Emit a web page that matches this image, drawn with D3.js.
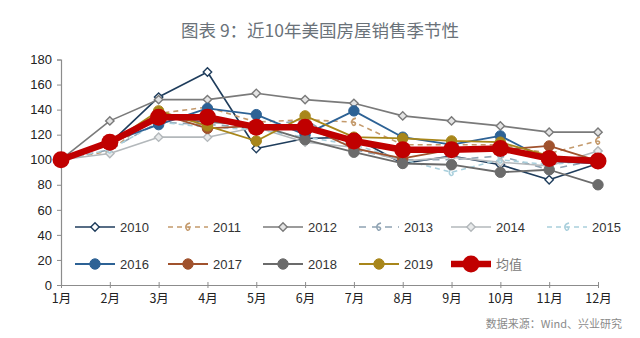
<!DOCTYPE html>
<html>
<head>
<meta charset="utf-8">
<script src="https://cdn.jsdelivr.net/npm/d3@7/dist/d3.min.js"></script>
<style>
  html, body { margin: 0; padding: 0; background: #fff; }
  svg { display: block; }
</style>
</head>
<body>
<svg id="chart" width="640" height="338"></svg>
<script>
// Monthly US home sales, January = 100
const months = ["1月","2月","3月","4月","5月","6月","7月","8月","9月","10月","11月","12月"];
const yTicks = [0, 20, 40, 60, 80, 100, 120, 140, 160, 180];

const s2010 = [100, 113, 150, 170, 109, 117, 118, 97, 103, 96, 84, 97];
const s2011 = [100, 107, 137, 142, 130, 132, 130, 112, 112, 112, 105, 115];
const s2012 = [100, 131, 148, 148, 153, 148, 145, 135, 131, 127, 122, 122];
const s2013 = [100, 108, 130, 128, 126, 132, 108, 100, 100, 103, 92, 100];
const s2014 = [100, 105, 118, 118, 126, 114, 110, 99, 102, 98, 95, 107];
const s2015 = [100, 108, 130, 126, 124, 118, 112, 100, 90, 100, 96, 100];
const s2016 = [100, 114, 128, 141, 136, 120, 139, 118, 112, 119, 99, 97];
const s2017 = [100, 112, 137, 125, 127, 127, 109, 101, 108, 108, 111, 99];
const s2018 = [100, 114, 134, 130, 128, 116, 106, 97, 96, 90, 92, 80];
const s2019 = [100, 113, 139, 127, 115, 135, 118, 117, 115, 114, 103, 98];
const sAvg  = [100, 114, 134, 134, 126, 126, 115, 108, 108, 109, 101, 99];

const seriesNames = ["2010","2011","2012","2013","2014","2015","2016","2017","2018","2019","均值"];
const seriesValues = [s2010, s2011, s2012, s2013, s2014, s2015, s2016, s2017, s2018, s2019, sAvg];

// Visual style per series
const styles = [
  {color: "#1f3d5c", dash: null,  marker: "diamond", fill: "#ffffff", width: 1.6},
  {color: "#c49a6c", dash: "5,4", marker: "swirl",   fill: "#ffffff", width: 1.6},
  {color: "#7a7a7a", dash: null,  marker: "diamond", fill: "#e4e4e4", width: 1.6},
  {color: "#8fa3b3", dash: "7,6", marker: "swirl",   fill: "#ffffff", width: 1.6},
  {color: "#b3b8bb", dash: null,  marker: "diamond", fill: "#e8eaeb", width: 1.6},
  {color: "#a9cfdc", dash: "5,4", marker: "swirl",   fill: "#ffffff", width: 1.6},
  {color: "#2d6295", dash: null,  marker: "circle",  fill: "#2d6295", width: 1.8},
  {color: "#a0522d", dash: null,  marker: "circle",  fill: "#a0522d", width: 1.8},
  {color: "#6b6b6b", dash: null,  marker: "circle",  fill: "#6b6b6b", width: 1.8},
  {color: "#a8861a", dash: null,  marker: "circle",  fill: "#a8861a", width: 1.8},
  {color: "#c00000", dash: null,  marker: "big",     fill: "#c00000", width: 6.5}
];

const svg = d3.select("#chart");
const cjk = "'Noto Sans CJK SC', 'Noto Sans', sans-serif";
const latin = "'Liberation Sans', Arial, sans-serif";

// Title
svg.append("text")
  .attr("x", 320).attr("y", 37)
  .attr("text-anchor", "middle")
  .attr("font-family", cjk)
  .attr("font-size", 17.5)
  .attr("font-weight", 400)
  .attr("fill", "#6a7279")
  .text("图表 9：近10年美国房屋销售季节性");

// Scales
const x = d3.scalePoint().domain(months).range([61, 598]);
const y = d3.scaleLinear().domain([0, 180]).range([285, 59.5]);

// Y axis
const yAxis = svg.append("g")
  .attr("transform", "translate(61,0)")
  .call(d3.axisLeft(y).tickValues(yTicks).tickSize(4).tickPadding(5));
yAxis.select(".domain").attr("stroke", "#8c8c8c").attr("stroke-width", 1.2);
yAxis.selectAll(".tick line").attr("stroke", "#8c8c8c");
yAxis.selectAll(".tick text")
  .attr("font-family", latin).attr("font-size", 13).attr("fill", "#222");

// X axis
const xAxis = svg.append("g")
  .attr("transform", "translate(0,285)")
  .call(d3.axisBottom(x).tickSize(4).tickSizeOuter(0).tickPadding(5));
xAxis.select(".domain").attr("stroke", "#8c8c8c").attr("stroke-width", 1.2);
xAxis.selectAll(".tick line").attr("stroke", "#8c8c8c").attr("y1", -3).attr("y2", 3);
xAxis.selectAll(".tick text")
  .attr("font-family", cjk).attr("font-size", 12.5).attr("fill", "#222");

// Marker drawing helper
function drawMarker(g, st, cx, cy) {
  if (st.marker === "diamond") {
    g.append("path")
      .attr("d", "M0,-4.2 L4.2,0 L0,4.2 L-4.2,0 Z")
      .attr("transform", `translate(${cx},${cy})`)
      .attr("fill", st.fill).attr("stroke", st.color).attr("stroke-width", 1.4);
  } else if (st.marker === "swirl") {
    g.append("path")
      .attr("d", "M2,-4 C-3,-3 -3,1 -1,3 M-1,3 C1,4 3,1 0,0")
      .attr("transform", `translate(${cx},${cy})`)
      .attr("fill", "none").attr("stroke", st.color).attr("stroke-width", 1.6);
  } else if (st.marker === "circle") {
    g.append("circle").attr("cx", cx).attr("cy", cy).attr("r", 5.2)
      .attr("fill", st.fill).attr("stroke", st.color).attr("stroke-width", 1);
  } else {
    g.append("circle").attr("cx", cx).attr("cy", cy).attr("r", 8.5)
      .attr("fill", st.fill);
  }
}

// Lines
const line = d3.line().x((d, i) => x(months[i])).y(d => y(d));
const plot = svg.append("g");
seriesValues.forEach((vals, k) => {
  const st = styles[k];
  const g = plot.append("g");
  g.append("path")
    .datum(vals)
    .attr("d", line)
    .attr("fill", "none")
    .attr("stroke", st.color)
    .attr("stroke-width", st.width)
    .attr("stroke-linejoin", "round")
    .attr("stroke-dasharray", st.dash);
  vals.forEach((v, i) => drawMarker(g, st, x(months[i]), y(v)));
});

// Legend
const legendX = [75, 168, 263, 359, 451, 547];
const legendY = [227, 264];
const legend = svg.append("g");
seriesNames.forEach((name, k) => {
  const st = styles[k];
  const lx = legendX[k % 6];
  const ly = legendY[Math.floor(k / 6)];
  const g = legend.append("g");
  g.append("line")
    .attr("x1", lx).attr("x2", lx + 40).attr("y1", ly).attr("y2", ly)
    .attr("stroke", st.color).attr("stroke-width", st.width)
    .attr("stroke-dasharray", st.dash);
  drawMarker(g, st, lx + 20, ly);
  g.append("text")
    .attr("x", lx + 45).attr("y", ly + 5)
    .attr("font-family", name === "均值" ? cjk : latin)
    .attr("font-size", 13)
    .attr("fill", name === "均值" ? "#7a7a7a" : "#333")
    .text(name);
});

// Source note
svg.append("text")
  .attr("x", 622).attr("y", 328)
  .attr("text-anchor", "end")
  .attr("font-family", cjk)
  .attr("font-size", 11)
  .attr("fill", "#8a8a8a")
  .text("数据来源：Wind、兴业研究");
</script>
</body>
</html>
